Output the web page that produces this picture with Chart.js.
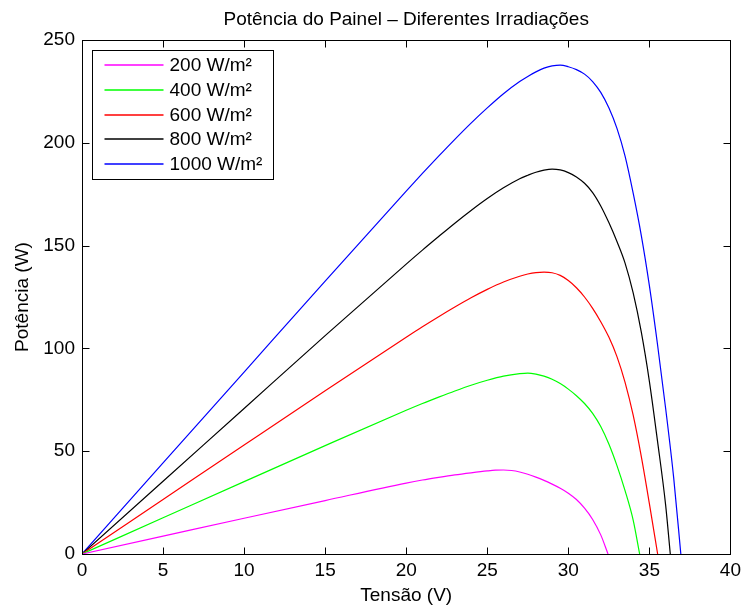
<!DOCTYPE html>
<html>
<head>
<meta charset="utf-8">
<script src="https://cdn.jsdelivr.net/npm/chart.js@4.4.0/dist/chart.umd.min.js"></script>
<style>
html,body{margin:0;padding:0;background:#ffffff;}
canvas{display:block;}
</style>
</head>
<body>
<canvas id="c" width="746" height="611"></canvas>
<script>
// ---- data ----
const titleText = 'Potência do Painel – Diferentes Irradiações';
const xTitle = 'Tensão (V)';
const yTitle = 'Potência (W)';
const seriesLabels = ['200 W/m²', '400 W/m²', '600 W/m²', '800 W/m²', '1000 W/m²'];
const seriesColors = ['#ff00ff', '#00ff00', '#ff0000', '#000000', '#0000ff'];

const v200 = [0, 5, 10, 15, 20, 21, 22, 23, 24, 25, 25.5, 26, 26.5, 27, 27.5, 28, 28.5, 29, 29.5, 30, 30.5, 31, 31.5, 32, 32.45];
const p200 = [0, 8.7, 17.4, 26.0, 34.5, 36.0, 37.3, 38.5, 39.5, 40.4, 40.75, 40.85, 40.6, 39.9, 38.8, 37.4, 35.8, 34.0, 32.0, 29.6, 26.5, 22.3, 16.8, 9.3, 0];

const v400 = [0, 5, 10, 15, 20, 21, 22, 23, 24, 25, 26, 27, 27.5, 28, 28.5, 29, 29.5, 30, 30.5, 31, 31.5, 32, 32.5, 33, 33.5, 34, 34.4];
const p400 = [0, 17.6, 35.2, 52.7, 69.9, 73.2, 76.3, 79.3, 82.1, 84.5, 86.5, 87.7, 88.0, 87.5, 86.5, 85.0, 82.9, 80.2, 77.0, 73.2, 68.4, 62.0, 53.5, 43.0, 30.8, 16.5, 0];

const v600 = [0, 5, 10, 15, 20, 21, 22, 23, 24, 25, 26, 27, 27.5, 28, 28.5, 29, 29.5, 30, 30.5, 31, 31.5, 32, 32.5, 33, 33.5, 34, 34.5, 35, 35.51];
const p600 = [0, 26.5, 53.0, 79.4, 105.4, 110.5, 115.4, 120.1, 124.6, 128.7, 132.3, 135.1, 136.2, 136.9, 137.1, 136.8, 135.5, 133.0, 129.5, 125.0, 119.5, 113.0, 105.5, 96.0, 83.5, 67.5, 47.5, 24.5, 0];

const v800 = [0, 5, 10, 15, 20, 21, 22, 23, 24, 25, 26, 27, 27.5, 28, 28.5, 29, 29.5, 30, 30.5, 31, 31.5, 32, 32.5, 33, 33.5, 34, 34.5, 35, 35.5, 36, 36.29];
const p800 = [0, 35.4, 70.8, 106.2, 141.0, 147.8, 154.4, 160.9, 167.1, 172.9, 178.1, 182.5, 184.2, 185.7, 186.7, 187.2, 186.8, 185.5, 183.4, 180.3, 175.8, 169.3, 161.2, 152.0, 141.5, 127.0, 108.0, 84.0, 55.0, 24.0, 0];

const v1000 = [0, 5, 10, 15, 20, 21, 22, 23, 24, 25, 26, 27, 27.5, 28, 28.5, 29, 29.5, 30, 30.5, 31, 31.5, 32, 32.5, 33, 33.5, 34, 34.5, 35, 35.5, 36, 36.5, 36.94];
const p1000 = [0, 44.3, 88.5, 132.7, 176.5, 185.1, 193.5, 201.7, 209.6, 217.0, 223.9, 229.8, 232.3, 234.5, 236.3, 237.4, 237.8, 237.0, 235.6, 233.4, 229.8, 224.5, 217.0, 207.0, 193.5, 175.5, 155.0, 130.5, 102.0, 71.0, 37.0, 0];

const xTicks = [0, 5, 10, 15, 20, 25, 30, 35, 40];
const yTicks = [0, 50, 100, 150, 200, 250];

// ---- chart ----
const FONT_FAMILY = "'Liberation Sans', Arial, Helvetica, sans-serif";
const FONT_SIZE = 19;

function pts(v, p) { return v.map((x, i) => ({ x: x, y: p[i] })); }
const seriesV = [v200, v400, v600, v800, v1000];
const seriesP = [p200, p400, p600, p800, p1000];

const datasets = seriesLabels.map((lab, i) => ({
  label: lab,
  data: pts(seriesV[i], seriesP[i]),
  borderColor: seriesColors[i],
  backgroundColor: seriesColors[i],
  borderWidth: 1.2,
  pointRadius: 0,
  fill: false,
  cubicInterpolationMode: 'monotone'
}));

const framePlugin = {
  id: 'frame',
  afterDraw(chart) {
    const ctx = chart.ctx;
    const a = chart.chartArea;
    const xs = chart.scales.x, ys = chart.scales.y;
    ctx.save();
    ctx.strokeStyle = '#000';
    ctx.lineWidth = 1;
    const L = Math.round(a.left) + 0.5, R = Math.round(a.right) + 0.5;
    const T = Math.round(a.top) + 0.5, B = Math.round(a.bottom) + 0.5;
    ctx.strokeRect(L, T, R - L, B - T);
    const tl = 7;
    ctx.beginPath();
    xTicks.forEach(t => {
      const px = Math.round(xs.getPixelForValue(t)) + 0.5;
      ctx.moveTo(px, B); ctx.lineTo(px, B - tl);
      ctx.moveTo(px, T); ctx.lineTo(px, T + tl);
    });
    yTicks.forEach(t => {
      const py = Math.round(ys.getPixelForValue(t)) + 0.5;
      ctx.moveTo(L, py); ctx.lineTo(L + tl, py);
      ctx.moveTo(R, py); ctx.lineTo(R - tl, py);
    });
    ctx.stroke();

    // title
    ctx.fillStyle = '#000';
    ctx.font = FONT_SIZE + 'px ' + FONT_FAMILY;
    ctx.textAlign = 'center';
    ctx.textBaseline = 'alphabetic';
    ctx.fillText(titleText, (a.left + a.right) / 2, 25);

    // legend box
    const bx = L + 10, by = T + 10, bw = 181, bh = 129;
    ctx.fillStyle = '#fff';
    ctx.fillRect(bx, by, bw, bh);
    ctx.strokeStyle = '#000';
    ctx.lineWidth = 1;
    ctx.strokeRect(bx, by, bw, bh);
    const rowH = 24.8;
    ctx.textAlign = 'left';
    ctx.textBaseline = 'middle';
    chart.data.datasets.forEach((ds, i) => {
      const cy = Math.round(by + 14.5 + i * rowH);
      ctx.strokeStyle = ds.borderColor;
      ctx.lineWidth = 1.4;
      ctx.beginPath();
      ctx.moveTo(bx + 12, cy);
      ctx.lineTo(bx + 71, cy);
      ctx.stroke();
      ctx.fillStyle = '#000';
      ctx.fillText(ds.label, bx + 77, cy + 1);
    });
    ctx.restore();
  }
};

const font = { family: FONT_FAMILY, size: FONT_SIZE };

new Chart(document.getElementById('c'), {
  type: 'line',
  data: { datasets: datasets },
  options: {
    responsive: false,
    animation: false,
    devicePixelRatio: 1,
    layout: { padding: { top: 40, right: 14, bottom: 0, left: 0 } },
    plugins: { legend: { display: false }, title: { display: false }, tooltip: { enabled: false } },
    scales: {
      x: {
        type: 'linear', min: 0, max: 40,
        afterBuildTicks(s) { s.ticks = xTicks.map(v => ({ value: v })); },
        ticks: { font: font, color: '#000', padding: 5, maxRotation: 0, autoSkip: false },
        grid: { display: false, drawTicks: false },
        border: { display: false },
        title: { display: true, text: xTitle, font: font, color: '#000', padding: { top: 0, bottom: 4 } },
        afterFit(s) { s.height = 57; }
      },
      y: {
        type: 'linear', min: 0, max: 250,
        afterBuildTicks(s) { s.ticks = yTicks.map(v => ({ value: v })); },
        ticks: { font: font, color: '#000', padding: 7, autoSkip: false },
        grid: { display: false, drawTicks: false },
        border: { display: false },
        title: { display: true, text: yTitle, font: font, color: '#000', padding: { top: 11, bottom: 0 } },
        afterFit(s) { s.width = 82; }
      }
    }
  },
  plugins: [framePlugin]
});
</script>
</body>
</html>
